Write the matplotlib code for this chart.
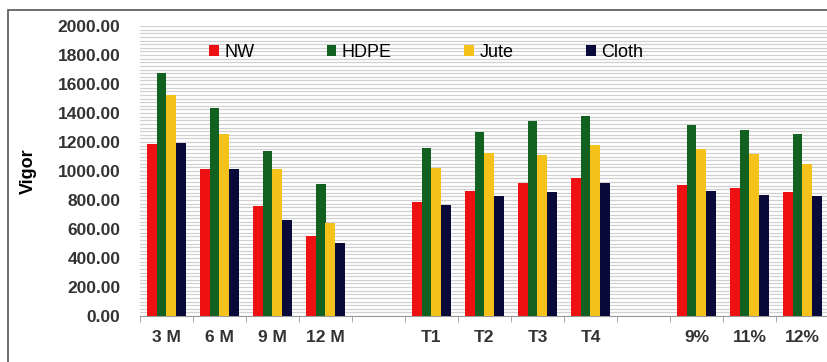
import numpy as np
import matplotlib
matplotlib.use("Agg")
import matplotlib.pyplot as plt
from matplotlib.patches import Rectangle

plt.rcParams['font.family'] = ['Liberation Sans', 'DejaVu Sans']

categories = ["3 M", "6 M", "9 M", "12 M", "", "T1", "T2", "T3", "T4", "", "9%", "11%", "12%"]
series = ["NW", "HDPE", "Jute", "Cloth"]
colors = ["#ee1111", "#136121", "#f5c11b", "#0a0a3a"]

nw = [1185, 1015, 760, 555, np.nan, 785, 862, 920, 952, np.nan, 905, 884, 852]
hdpe = [1677, 1436, 1138, 912, np.nan, 1160, 1266, 1346, 1378, np.nan, 1316, 1286, 1258]
jute = [1523, 1253, 1016, 640, np.nan, 1020, 1127, 1108, 1182, np.nan, 1150, 1118, 1046]
cloth = [1190, 1012, 662, 505, np.nan, 763, 826, 855, 917, np.nan, 862, 836, 826]
values = [nw, hdpe, jute, cloth]

fig = plt.figure(figsize=(8.28, 3.62), dpi=100)
ax = fig.add_axes([140 / 828, 1 - 316 / 362, 689 / 828, 290 / 362])

# outer frame of the picture
fig.patches.append(Rectangle((8 / 828, -0.1), 1.1, 1 - 10 / 362 + 0.1, transform=fig.transFigure,
                             fill=False, edgecolor="#555555", linewidth=1.2))

x = np.arange(len(categories))
w = 0.18
for i, (name, vals, c) in enumerate(zip(series, values, colors)):
    ax.bar(x + (i - 1.5) * w, vals, width=w, color=c, label=name, zorder=3)

ax.set_xlim(-0.5, len(categories) - 0.5)
ax.set_ylim(0, 2000)
ax.set_yticks(np.arange(0, 2001, 200))
ax.set_yticklabels([f"{v:.2f}" for v in np.arange(0, 2001, 200)], fontsize=12.5,
                   fontweight="bold", color="#333333")
ax.set_yticks(np.arange(0, 2001, 25), minor=True)
ax.tick_params(axis="y", which="both", length=0, pad=14)
ax.grid(axis="y", which="both", color="#d0d0d0", linewidth=0.9, zorder=0)

ax.set_xticks(x)
ax.set_xticklabels(categories, fontsize=12.5, fontweight="bold", color="#333333")
ax.set_xticks(np.arange(-0.5, len(categories), 1), minor=True)
ax.tick_params(axis="x", which="major", length=0, pad=10)
ax.tick_params(axis="x", which="minor", length=4, color="#999999")

for s in ["top", "right", "left"]:
    ax.spines[s].set_visible(False)
ax.spines["bottom"].set_color("#999999")

ax.set_ylabel("Vigor", fontsize=13, fontweight="bold")
ax.yaxis.set_label_coords(-0.15, 0.5)

ax.legend(loc="upper center", bbox_to_anchor=(0.415, 0.995), ncol=4, frameon=False,
          fontsize=13, handlelength=0.55, handleheight=0.55, handletextpad=0.3,
          columnspacing=4.0)

fig.savefig("out.png", dpi=100)
